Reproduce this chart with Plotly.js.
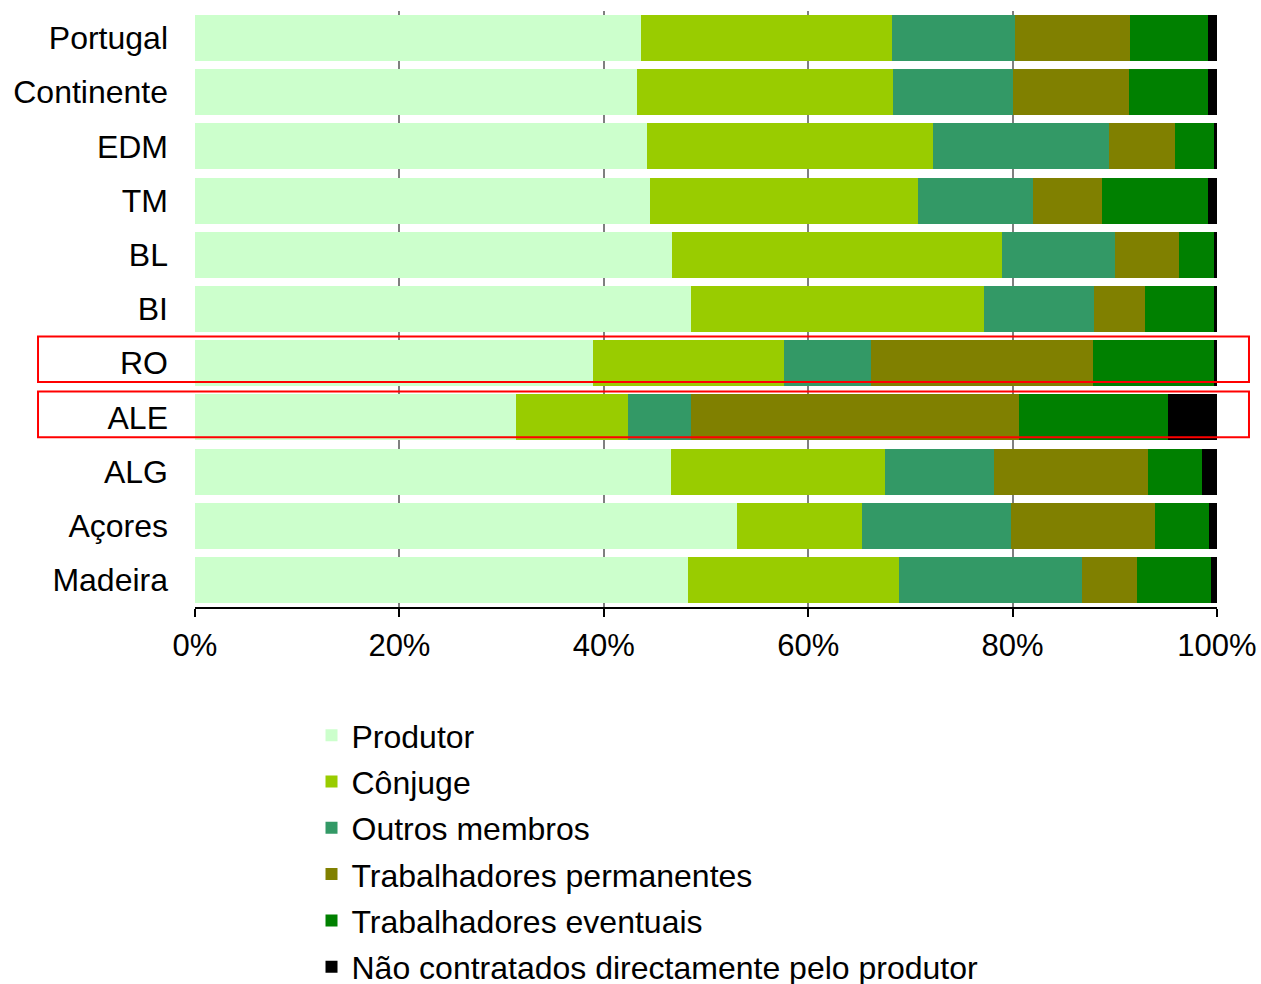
<!DOCTYPE html>
<html><head><meta charset="utf-8">
<script src="https://cdn.plot.ly/plotly-3.0.1.min.js"></script>
<style>html,body{margin:0;padding:0;background:#fff;}#chart{width:1261px;height:984px;}</style>
</head><body><div id="chart"></div>
<script>
const regions = ["Portugal","Continente","EDM","TM","BL","BI","RO","ALE","ALG","Açores","Madeira"];
const seriesNames = ["Produtor","Cônjuge","Outros membros","Trabalhadores permanentes","Trabalhadores eventuais","Não contratados directamente pelo produtor"];
const produtor       = [43.6, 43.2, 44.2, 44.5, 46.7, 48.5, 38.9, 31.4, 46.6, 53.0, 48.2];
const conjuge        = [24.6, 25.1, 28.0, 26.2, 32.3, 28.7, 18.7, 11.0, 20.9, 12.3, 20.7];
const outrosMembros  = [12.0, 11.7, 17.2, 11.3, 11.0, 10.8,  8.5,  6.1, 10.7, 14.5, 17.9];
const trabPerman     = [11.3, 11.4,  6.5,  6.7,  6.3,  5.0, 21.8, 32.1, 15.0, 14.1,  5.4];
const trabEvent      = [ 7.6,  7.7,  3.8, 10.4,  3.4,  6.7, 11.8, 14.6,  5.3,  5.3,  7.2];
const naoContratados = [ 0.9,  0.9,  0.3,  0.9,  0.3,  0.3,  0.3,  4.8,  1.5,  0.8,  0.6];
const colors = ["#CCFFCC","#99CC00","#339966","#808000","#008000","#000000"];
const highlighted = ["RO","ALE"];

const allSeries = [produtor, conjuge, outrosMembros, trabPerman, trabEvent, naoContratados];
const traces = allSeries.map((vals, i) => ({
  type: 'bar', orientation: 'h',
  x: vals, y: regions, name: seriesNames[i],
  legendgroup: 'g' + i,
  marker: {color: colors[i], line: {width: 0}},
  hoverinfo: 'x+y+name'
}));

const boxSpans = {RO: [-0.494, 0.347], ALE: [-0.476, 0.365]};
const shapes = highlighted.map(r => {
  const idx = regions.indexOf(r);
  return {type: 'rect', xref: 'paper', yref: 'y',
    x0: -0.1536, x1: 1.0313, y0: idx + boxSpans[r][0], y1: idx + boxSpans[r][1],
    line: {color: '#FF0000', width: 2}, fillcolor: 'rgba(0,0,0,0)', layer: 'above'};
});

const layout = {
  width: 1261, height: 984,
  margin: {l: 195, r: 44, t: 11, b: 377, autoexpand: false},
  barmode: 'stack', barnorm: 'percent', bargap: 0.15,
  paper_bgcolor: '#fff', plot_bgcolor: '#fff',
  font: {family: '"Liberation Sans", Arial, sans-serif', size: 32, color: '#000'},
  xaxis: {range: [0, 100], tickvals: [0,20,40,60,80,100], ticktext: ['0%','20%','40%','60%','80%','100%'],
    showgrid: true, gridcolor: '#808080', gridwidth: 2, zeroline: false,
    showline: true, linecolor: '#000', linewidth: 2, ticks: 'outside', ticklen: 8, tickcolor: '#000', tickwidth: 2,
    ticklabelstandoff: 2, tickfont: {size: 31}},
  yaxis: {type: 'category', autorange: 'reversed', showgrid: false, zeroline: false, showline: false,
    ticks: '', ticklabelstandoff: 26, tickfont: {size: 32}},
  showlegend: true,
  legend: {x: 0.114, xanchor: 'left', y: -0.1693, yanchor: 'top', orientation: 'v', maxheight: 400,
    traceorder: 'grouped', tracegroupgap: 1.7, font: {size: 32}, bgcolor: 'rgba(0,0,0,0)'},
  shapes: shapes
};
Plotly.newPlot('chart', traces, layout, {displayModeBar: false, staticPlot: true});
</script></body></html>
